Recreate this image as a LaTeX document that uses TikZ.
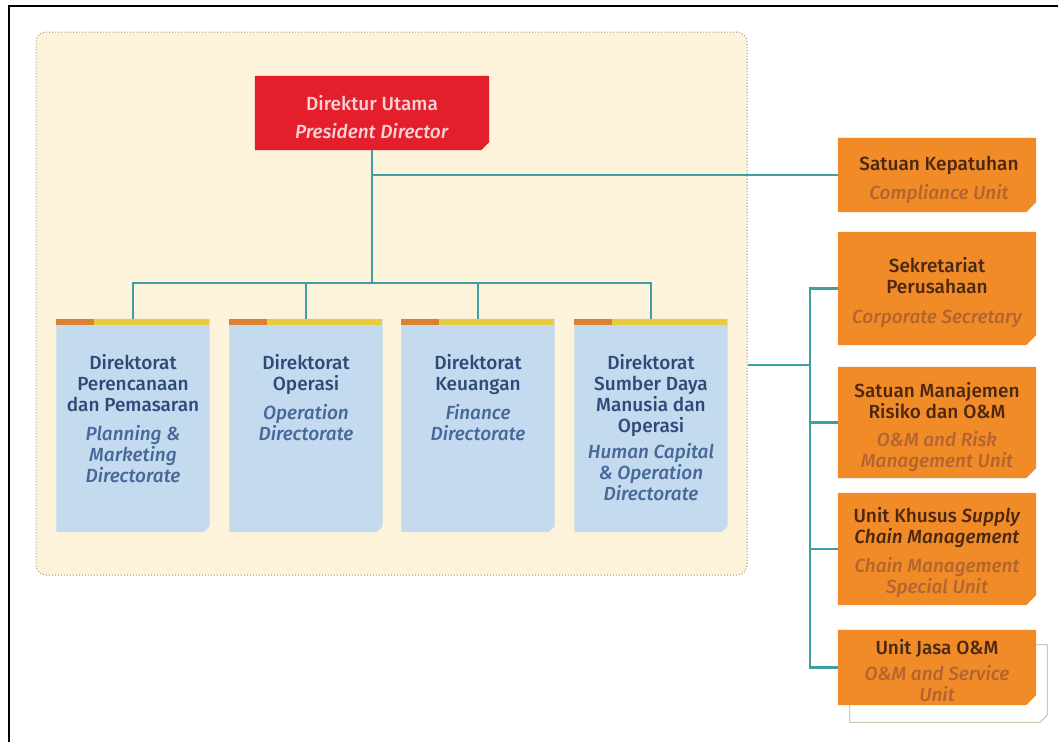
\documentclass[tikz,border=0pt]{standalone}
\usepackage{fontspec}
\setmainfont{Fira Sans}[UprightFont=* Medium, ItalicFont=* Medium Italic,
  BoldFont=* Bold, BoldItalicFont=* Bold Italic]
\usetikzlibrary{calc}

\definecolor{panelfill}{HTML}{FDF2DA}
\definecolor{dotgray}{HTML}{9A9A9A}
\definecolor{redbox}{HTML}{E41E2B}
\definecolor{redtext}{HTML}{F8D2D4}
\definecolor{bluebox}{HTML}{C3DAEF}
\definecolor{bluetext}{HTML}{2E4B78}
\definecolor{blueital}{HTML}{48689A}
\definecolor{orangebox}{HTML}{F18B27}
\definecolor{browntext}{HTML}{4A2711}
\definecolor{brownital}{HTML}{B3652F}
\definecolor{linkteal}{HTML}{3E9EA3}
\definecolor{baryellow}{HTML}{E6CC3E}
\definecolor{barorange}{HTML}{D98235}
\definecolor{backline}{HTML}{B8AA90}

\newcommand\blueen[1]{{\color{blueital}\itshape #1}}
\newcommand\brownen[1]{{\color{brownital}\itshape #1}}
% box outline of a node with its lower right corner cut off
\newcommand\cutbox[2]{(#1.north west) -- (#1.north east) -- ([yshift=#2]#1.south east)
  -- ([xshift=-#2]#1.south east) -- (#1.south west) -- cycle}

\tikzset{
  frame/.style={rectangle, inner sep=0pt},
  headbox/.style={frame, minimum width=234pt, minimum height=74pt},
  dirbox/.style={frame, minimum width=153pt, minimum height=213pt},
  unitbox/.style={frame, minimum width=198pt},
  unitback/.style={frame, minimum width=197pt, minimum height=77pt},
  boxtext/.style={align=center, inner sep=0pt, anchor=north,
    font=\fontsize{19}{21}\selectfont},
  headtext/.style={boxtext, text=redtext},
  dirtext/.style={boxtext, text=bluetext},
  unittext/.style={boxtext, text=browntext},
  conn/.style={draw=linkteal, line width=2.2pt},
}

\begin{document}
\begin{tikzpicture}[x=1pt,y=-1pt]
  \useasboundingbox (0,0) rectangle (1058,742);
  \fill[white] (0,0) rectangle (1058,742);
  % page frame (top and left edges)
  \draw[line width=2pt] (9,742) -- (9,6) -- (1058,6);

  % directors panel
  \node[rectangle, rounded corners=10pt, fill=panelfill, draw=dotgray, dotted,
        line width=1pt, minimum width=711pt, minimum height=543pt] (panel) at (391.5,303.5) {};

  % box frames
  \node[headbox] (pd) at (372,113) {};
  \node[dirbox] (b1) at (133,425.5) {};
  \node[dirbox] (b2) at (306,425.5) {};
  \node[dirbox] (b3) at (478,425.5) {};
  \node[dirbox] (b4) at (651,425.5) {};
  \node[unitbox, minimum height=74pt] (comp) at (937,175) {};
  \node[unitbox, minimum height=113pt] (sek) at (937,288.5) {};
  \node[unitbox, minimum height=111pt] (sm) at (937,422.5) {};
  \node[unitbox, minimum height=112pt] (uk) at (937,549) {};
  \node[unitback] (ujb) at (948.5,683.5) {};
  \node[unitbox, minimum height=75pt] (uj) at (937,667.5) {};

  % box fills
  \fill[redbox] \cutbox{pd}{8pt};
  \foreach \b in {b1,b2,b3,b4}{
    \fill[bluebox] \cutbox{\b}{6pt};
    \fill[baryellow] (\b.north west) rectangle ++(153,6);
    \fill[barorange] (\b.north west) rectangle ++(38,6);
  }
  \foreach \u in {comp,sek,sm,uk}{
    \fill[orangebox] \cutbox{\u}{10pt};
  }
  \filldraw[fill=white, draw=backline, line width=0.8pt] \cutbox{ujb}{7pt};
  \fill[orangebox] \cutbox{uj}{10pt};

  % texts
  \node[headtext] (pdt) at (372,95.5) {Direktur Utama\\[7pt]\textit{President Director}};

  \node[dirtext] (t1) at (133,354.5) {Direktorat\\Perencanaan\\dan Pemasaran\\[8pt]
    \blueen{Planning \&}\\\blueen{Marketing}\\\blueen{Directorate}};
  \node[dirtext] (t2) at (306,354.5) {Direktorat\\Operasi\\[8pt]
    \blueen{Operation}\\\blueen{Directorate}};
  \node[dirtext] (t3) at (478,354.5) {Direktorat\\Keuangan\\[8pt]
    \blueen{Finance}\\\blueen{Directorate}};
  \node[dirtext] (t4) at (651,354.5) {Direktorat\\Sumber Daya\\Manusia dan\\Operasi\\[5pt]
    \blueen{Human Capital}\\\blueen{\& Operation}\\\blueen{Directorate}};

  \node[unittext] (compt) at (939,155.5)
    {Satuan Kepatuhan\\[8pt]\brownen{Compliance Unit}};
  \node[unittext] (sekt) at (937,257.5)
    {Sekretariat\\Perusahaan\\[9pt]\brownen{Corporate Secretary}};
  \node[unittext] (smt) at (937,382.5)
    {Satuan Manajemen\\Risiko dan O\&M\\[7pt]\brownen{O\&M and Risk}\\\brownen{Management Unit}};
  \node[unittext] (ukt) at (937,507.5)
    {Unit Khusus \textit{Supply}\\\textit{Chain Management}\\[8pt]\brownen{Chain Management}\\\brownen{Special Unit}};
  \node[unittext] (ujt) at (937,639.5)
    {Unit Jasa O\&M\\[5pt]\brownen{O\&M and Service}\\\brownen{Unit}};

  % connectors
  \coordinate (split) at (372,283);
  \coordinate (rbus) at (810,365);
  \draw[conn] (pd.south) -- (split);
  \draw[conn] (pd.south |- comp.west) -- (comp.west);
  \draw[conn] (b1.north) |- (split) -| (b4.north);
  \draw[conn] (b2.north) -- (b2.north |- split);
  \draw[conn] (b3.north) -- (b3.north |- split);
  \draw[conn] (panel.east |- rbus) -- (rbus);
  \draw[conn] (sek.west) -- (sek.west -| rbus) |- (uj.west);
  \draw[conn] (sm.west) -- (sm.west -| rbus);
  \draw[conn] (uk.west) -- (uk.west -| rbus);
\end{tikzpicture}
\end{document}
